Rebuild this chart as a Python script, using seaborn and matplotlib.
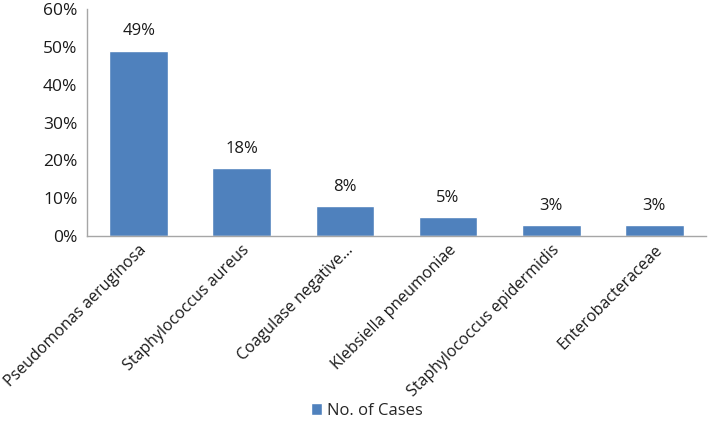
import matplotlib
matplotlib.use("Agg")
import matplotlib.pyplot as plt
import seaborn as sns
import pandas as pd

categories = ["Pseudomonas aeruginosa", "Staphylococcus aureus", "Coagulase negative...",
              "Klebsiella pneumoniae", "Staphylococcus epidermidis", "Enterobacteraceae"]
values = [49, 18, 8, 5, 3, 3]
series_name = "No. of Cases"
yticks = [0, 10, 20, 30, 40, 50, 60]

sns.set_style("white")
plt.rcParams['font.family'] = ['Open Sans', 'DejaVu Sans']

df = pd.DataFrame({"cat": categories, "val": values, "series": series_name})

fig = plt.figure(figsize=(7.08, 4.21), dpi=100)
ax = fig.add_axes([0.123, 0.439, 0.874, 0.540])
sns.barplot(data=df, x="cat", y="val", hue="series", palette=["#4F81BD"],
            width=0.57, saturation=1, ax=ax)
ax.set_ylim(0, 60)
ax.set_yticks(yticks)
ax.set_yticklabels([f"{t}%" for t in yticks], fontsize=12.5, color="#1a1a1a")
ax.set_xlabel("")
ax.set_ylabel("")
ax.set_xlim(-0.5, len(categories) - 0.5)
ax.set_xticks(range(len(categories)))
ax.set_xticklabels(categories, rotation=45, ha="right", rotation_mode="anchor",
                   fontsize=11.5, color="#1a1a1a")
ax.tick_params(axis="y", length=0, pad=7)
ax.tick_params(axis="x", length=0, pad=4)
for lbl in ax.get_xticklabels():
    lbl.set_x(lbl.get_position()[0])
for c in ax.containers:
    ax.bar_label(c, labels=[f"{v}%" for v in values], padding=8, fontsize=12, color="#1a1a1a")
for s in ["top", "right"]:
    ax.spines[s].set_visible(False)
for s in ["left", "bottom"]:
    ax.spines[s].set_color("#A6A6A6")
    ax.spines[s].set_linewidth(1)
ax.legend(loc="center", bbox_to_anchor=(367 / 708, 1 - 411 / 421), bbox_transform=fig.transFigure,
          frameon=False, fontsize=12, handlelength=0.7, handleheight=0.7, handletextpad=0.3)
fig.savefig("out.png", dpi=100)
